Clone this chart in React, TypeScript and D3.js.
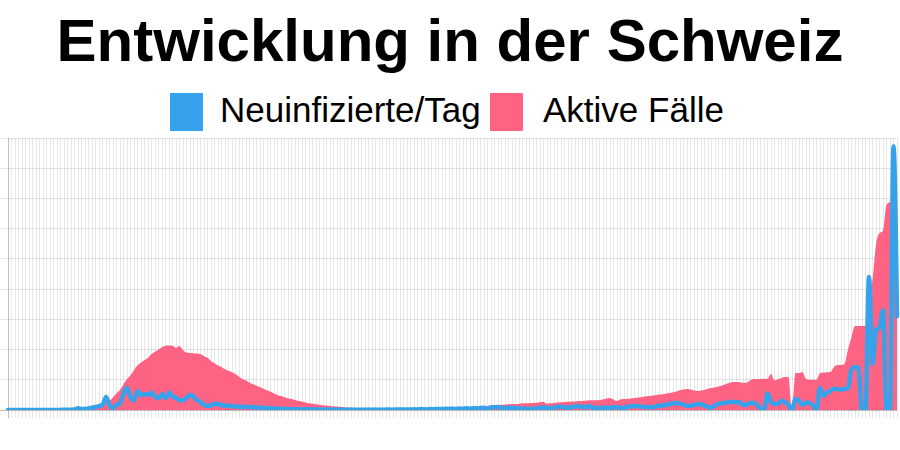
import React from "react";
import * as d3 from "d3";

const TITLE = "Entwicklung in der Schweiz";
const SERIES_NAMES = ["Neuinfizierte/Tag", "Aktive Fälle"];

// one category per day: 16 Feb 2020 .. 27 Oct 2020
const DATES: Date[] = d3.timeDay.range(new Date(2020, 1, 16), new Date(2020, 9, 28));

const NEW_CASES = [
  0, 0, 0, 0, 0, 0, 0, 0, 0, 1,
  0, 1, 2, 3, 5, 8, 10, 15, 20, 30,
  110, 60, 70, 100, 150, 200, 260, 330, 860, 350,
  130, 330, 450, 1100, 1450, 850, 650, 1250, 1000, 1050,
  1000, 1150, 900, 780, 1050, 800, 1150, 900, 800, 650,
  650, 800, 1000, 900, 650, 530, 330, 280, 300, 420,
  400, 330, 280, 300, 250, 230, 220, 200, 210, 200,
  180, 170, 160, 140, 120, 110, 100, 90, 80, 70,
  60, 55, 50, 45, 40, 50, 35, 30, 40, 25,
  30, 20, 25, 30, 20, 15, 25, 20, 30, 15,
  20, 20, 15, 25, 20, 30, 15, 20, 25, 30,
  20, 35, 25, 30, 40, 30, 45, 35, 50, 40,
  55, 60, 50, 70, 60, 80, 70, 90, 60, 100,
  80, 110, 90, 120, 100, 130, 150, 100, 170, 180,
  200, 150, 90, 160, 140, 130, 110, 80, 100, 70,
  60, 120, 140, 180, 130, 120, 160, 200, 210, 180,
  150, 200, 230, 250, 210, 180, 260, 150, 140, 130,
  150, 160, 130, 200, 180, 130, 150, 200, 260, 250,
  260, 220, 190, 200, 180, 230, 280, 300, 330, 380,
  450, 470, 420, 350, 270, 280, 330, 400, 380, 280,
  200, 170, 300, 420, 450, 480, 520, 550, 500, 520,
  330, 350, 460, 470, 350, 80, 0, 1100, 530, 400,
  420, 600, 530, 330, 0, 730, 620, 330, 500, 470,
  300, 0, 1460, 950, 1150, 1280, 1400, 1380, 1350, 1400,
  1450, 2700, 2850, 2780, 0, 0, 8800, 3050, 5300, 5450,
  6600, 0, 0, 17440, 6200,
];

const ACTIVE_CASES = [
  0, 0, 0, 0, 0, 0, 0, 0, 0, 1,
  1, 2, 5, 10, 15, 20, 30, 40, 55, 70,
  90, 110, 130, 150, 170, 200, 260, 350, 450, 600,
  850, 1100, 1320, 1700, 2050, 2300, 2650, 2950, 3150, 3300,
  3450, 3700, 3850, 4000, 4150, 4250, 4270, 4250, 4120, 4230,
  3950, 3800, 3780, 3760, 3740, 3700, 3560, 3450, 3250, 3100,
  2950, 2850, 2700, 2600, 2500, 2380, 2200, 2050, 1950, 1820,
  1700, 1620, 1500, 1400, 1300, 1200, 1100, 1000, 920, 850,
  780, 720, 660, 600, 560, 500, 450, 420, 380, 350,
  320, 290, 270, 250, 230, 210, 190, 170, 150, 140,
  130, 125, 120, 120, 115, 115, 110, 110, 110, 110,
  110, 115, 115, 120, 120, 125, 125, 130, 130, 135,
  140, 145, 150, 155, 160, 165, 170, 175, 180, 185,
  190, 195, 200, 205, 210, 220, 250, 270, 290, 310,
  330, 340, 360, 380, 390, 400, 420, 430, 440, 450,
  460, 480, 510, 530, 420, 440, 470, 500, 520, 530,
  540, 560, 570, 590, 600, 610, 640, 650, 640, 660,
  700, 760, 790, 700, 600, 700, 720, 740, 760, 800,
  830, 860, 900, 920, 950, 980, 1020, 1050, 1100, 1130,
  1180, 1230, 1300, 1350, 1390, 1350, 1300, 1250, 1290, 1330,
  1400, 1450, 1500, 1550, 1620, 1700, 1780, 1850, 1850, 1860,
  1800, 1800, 1950, 2050, 2050, 2050, 2060, 2060, 2380, 1950,
  2050, 2120, 2180, 2180, 0, 2450, 2450, 2520, 2050, 2000,
  2000, 2000, 2450, 2480, 2500, 2520, 2850, 2980, 2980, 3050,
  4000, 4830, 5560, 5560, 5560, 5560, 7280, 8600, 10920, 11710,
  11850, 13570, 13770, 13770, 13900,
];

const Y_TICKS = [0, 2000, 4000, 6000, 8000, 10000, 12000, 14000, 16000, 18000];

const BLUE = "#36a2eb";
const PINK = "#ff6384";

export default function App() {
  const left = 8, right = 897, top = 138, bottom = 410;
  const idx = DATES.map((_, i) => i);
  const x = d3.scalePoint<number>().domain(idx).range([left, right]);
  const y = d3.scaleLinear().domain([0, 18000]).range([bottom, top]);

  const area = d3
    .area<number>()
    .x((_, i) => x(i) as number)
    .y0(y(0))
    .y1((d) => y(d))
    .curve(d3.curveMonotoneX);
  const line = d3
    .line<number>()
    .x((_, i) => x(i) as number)
    .y((d) => y(d))
    .curve(d3.curveMonotoneX);

  const font = "'Liberation Sans', Arial, Helvetica, sans-serif";

  return (
    <svg
      width={900}
      height={450}
      style={{ position: "absolute", left: 0, top: 0, background: "#fff" }}
    >
      <text
        x={450}
        y={61}
        textAnchor="middle"
        fontFamily={font}
        fontWeight="bold"
        fontSize={60}
        fill="#000"
      >
        {TITLE}
      </text>

      {/* legend */}
      <rect x={170} y={93} width={33} height={38} fill={BLUE} />
      <text x={220} y={122} fontFamily={font} fontSize={35} fill="#000">
        {SERIES_NAMES[0]}
      </text>
      <rect x={490} y={93} width={33} height={38} fill={PINK} />
      <text x={543} y={122} fontFamily={font} fontSize={35} fill="#000">
        {SERIES_NAMES[1]}
      </text>

      {/* grid */}
      <g>
        {idx.map((i) => (
          <line
            key={"v" + i}
            x1={x(i)}
            x2={x(i)}
            y1={top}
            y2={bottom + 8}
            stroke={i === 0 ? "rgba(0,0,0,0.25)" : "rgba(0,0,0,0.09)"}
            strokeWidth={1}
            shapeRendering="crispEdges"
          />
        ))}
        {Y_TICKS.map((t) => (
          <line
            key={"h" + t}
            x1={left - 8}
            x2={right}
            y1={y(t)}
            y2={y(t)}
            stroke={t === 0 ? "rgba(0,0,0,0.25)" : "rgba(0,0,0,0.1)"}
            strokeWidth={1}
            shapeRendering="crispEdges"
          />
        ))}
      </g>

      <defs>
        <clipPath id="plot">
          <rect x={left - 3} y={top - 3} width={right - left + 6} height={bottom - top + 3} />
        </clipPath>
      </defs>
      <g clipPath="url(#plot)">
        <path d={area(ACTIVE_CASES) || ""} fill={PINK} />
        <path
          d={line(NEW_CASES) || ""}
          fill="none"
          stroke={BLUE}
          strokeWidth={4.5}
          strokeLinejoin="round"
          strokeLinecap="round"
        />
      </g>
    </svg>
  );
}
